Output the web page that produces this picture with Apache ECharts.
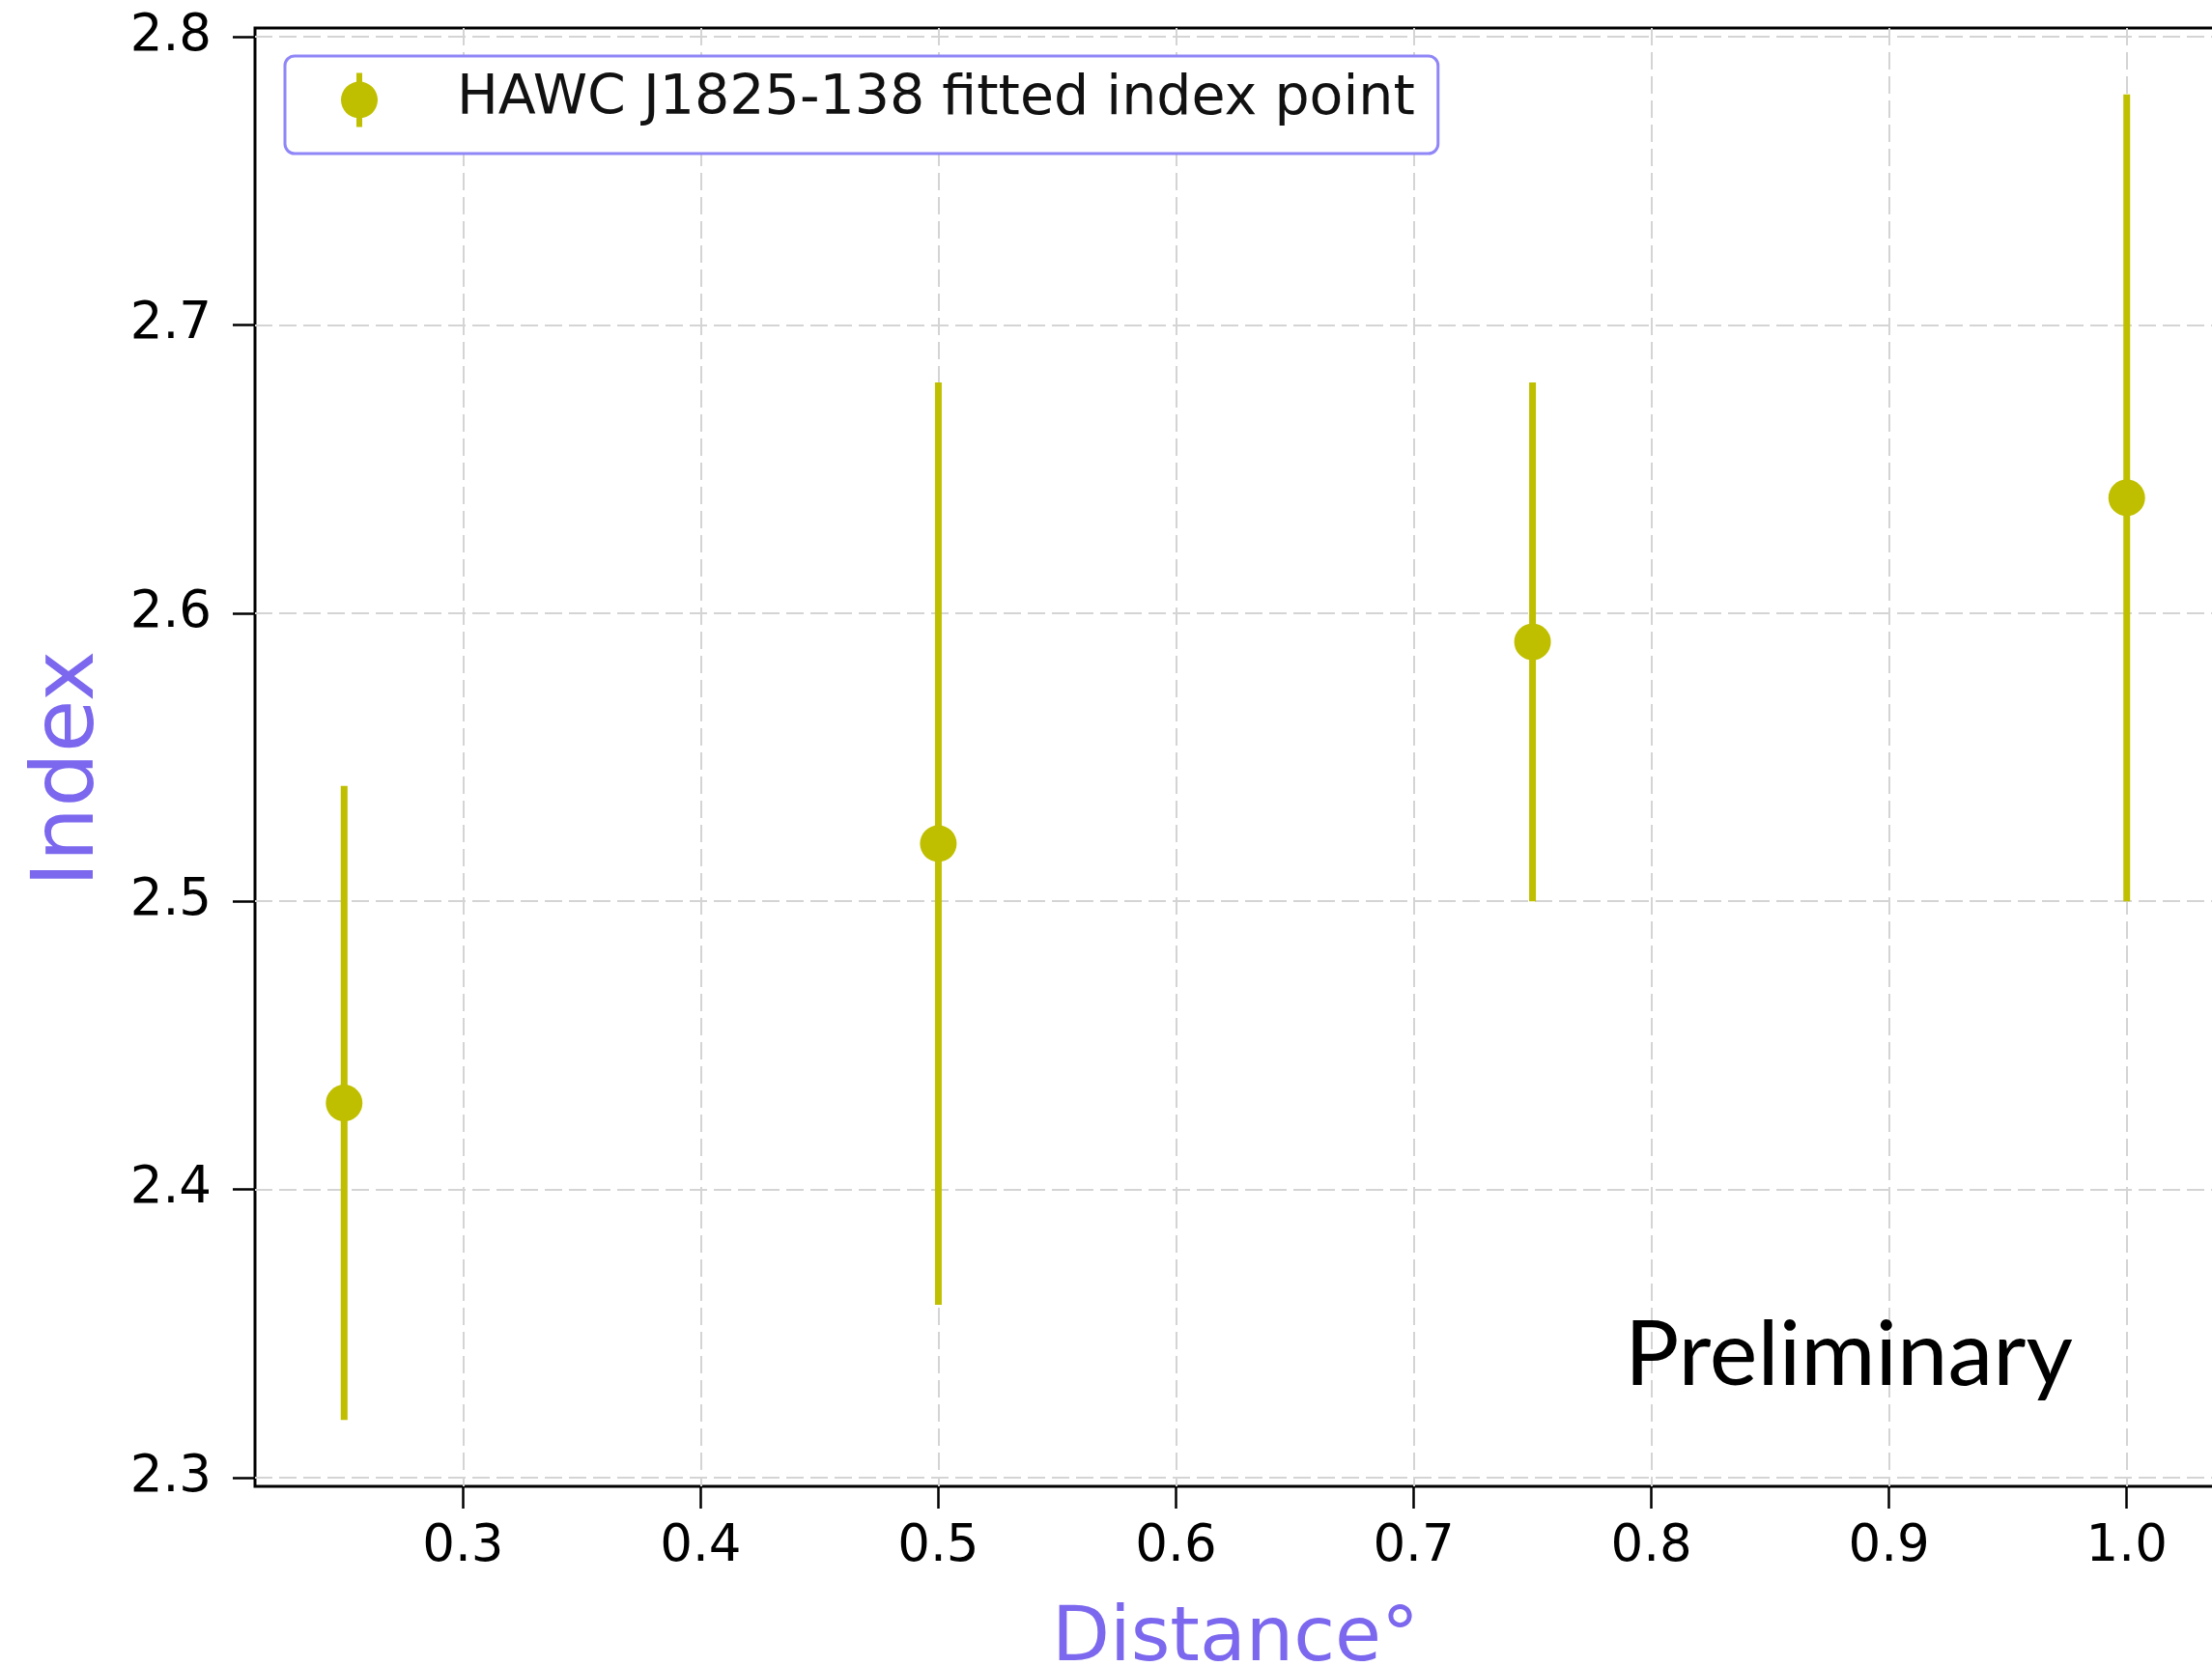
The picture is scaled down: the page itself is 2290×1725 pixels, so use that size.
<!DOCTYPE html>
<html>
<head>
<meta charset="utf-8">
<script src="https://cdn.jsdelivr.net/npm/echarts@6/dist/echarts.min.js"></script>
<style>
  html, body { margin: 0; padding: 0; background: #ffffff; }
  #chart { width: 2290px; height: 1725px; }
</style>
</head>
<body>
<div id="chart"></div>
<script>
// Fitted spectral index of HAWC J1825-138 versus angular distance
const distances = [0.25, 0.5, 0.75, 1.0];
const indexValues = [2.43, 2.52, 2.59, 2.64];
const indexLower = [2.32, 2.36, 2.50, 2.50];
const indexUpper = [2.54, 2.68, 2.68, 2.78];

const xTicks = [0.3, 0.4, 0.5, 0.6, 0.7, 0.8, 0.9, 1.0];
const yTicks = [2.3, 2.4, 2.5, 2.6, 2.7, 2.8];

const seriesName = 'HAWC J1825-138 fitted index point';
const pointColor = '#bfbf00';
const labelColor = '#7b68ee';

// axis extents: data span (including error bars) plus 5% margins
const xMin = 0.2125, xMax = 1.0375;
const yMin = 2.297, yMax = 2.803;

const points = distances.map((d, i) => [d, indexValues[i]]);
const bars = distances.map((d, i) => [d, indexLower[i], indexUpper[i]]);

const gridDash = { color: '#d4d4d4', width: 2, type: [18, 7] };
const tickFont = { fontFamily: 'DejaVu Sans', fontSize: 53, color: '#000000' };

// legend glyph: marker with a vertical error bar through it
const legendIcon = 'path://M16 0h6v56h-6z M0 28a19 19 0 1 1 38 0a19 19 0 1 1 -38 0z';

const chart = echarts.init(document.getElementById('chart'), null, { renderer: 'canvas' });

chart.setOption({
  backgroundColor: '#ffffff',
  animation: false,
  grid: {
    left: 264, top: 29, width: 2030, height: 1510,
    outerBoundsMode: 'none',
    containLabel: false,
    show: true, borderColor: '#000000', borderWidth: 3, backgroundColor: 'transparent'
  },
  xAxis: {
    type: 'value', min: xMin, max: xMax,
    name: 'Distance°', nameLocation: 'middle', nameGap: 121,
    nameTextStyle: { fontFamily: 'DejaVu Sans', fontSize: 78, color: labelColor },
    axisLine: { show: false },
    axisTick: { show: true, inside: false, length: 23, customValues: xTicks,
                lineStyle: { color: '#000000', width: 2.5 } },
    axisLabel: { customValues: xTicks, margin: 37, formatter: v => v.toFixed(1), ...tickFont },
    splitLine: { show: true, lineStyle: gridDash }
  },
  yAxis: {
    type: 'value', min: yMin, max: yMax,
    name: 'Index', nameLocation: 'middle', nameGap: 147, nameRotate: 90,
    nameTextStyle: { fontFamily: 'DejaVu Sans', fontSize: 89, color: labelColor, padding: [0, 24, 0, 0] },
    axisLine: { show: false },
    axisTick: { show: true, inside: false, length: 23, customValues: yTicks,
                lineStyle: { color: '#000000', width: 2.5 } },
    axisLabel: { customValues: yTicks, margin: 45, formatter: v => v.toFixed(1), ...tickFont },
    splitLine: { show: true, lineStyle: gridDash }
  },
  legend: {
    left: 295, top: 58,
    orient: 'horizontal',
    data: [{ name: seriesName, icon: legendIcon }],
    itemWidth: 38, itemHeight: 56,
    padding: [17, 24, 27, 58],
    backgroundColor: '#ffffff',
    borderColor: '#8f86f7', borderWidth: 3, borderRadius: 10,
    textStyle: { fontFamily: 'DejaVu Sans', fontSize: 57, color: '#111111', padding: [0, 0, 0, 77] },
    selectedMode: false
  },
  graphic: [{
    type: 'text',
    left: 1682, top: 1357,
    style: { text: 'Preliminary', fontFamily: 'Lato', fontSize: 94, fill: '#000000' },
    z: 50
  }],
  series: [
    {
      name: 'error bars',
      type: 'custom',
      data: bars,
      renderItem: function (params, api) {
        const x = api.value(0);
        const p0 = api.coord([x, api.value(1)]);
        const p1 = api.coord([x, api.value(2)]);
        return {
          type: 'line',
          shape: { x1: p0[0], y1: p0[1], x2: p1[0], y2: p1[1] },
          style: { stroke: pointColor, lineWidth: 7, lineCap: 'butt' }
        };
      },
      z: 3
    },
    {
      name: seriesName,
      type: 'scatter',
      data: points,
      symbol: 'circle',
      symbolSize: 38,
      itemStyle: { color: pointColor, opacity: 1 },
      z: 4
    }
  ]
});
</script>
</body>
</html>
